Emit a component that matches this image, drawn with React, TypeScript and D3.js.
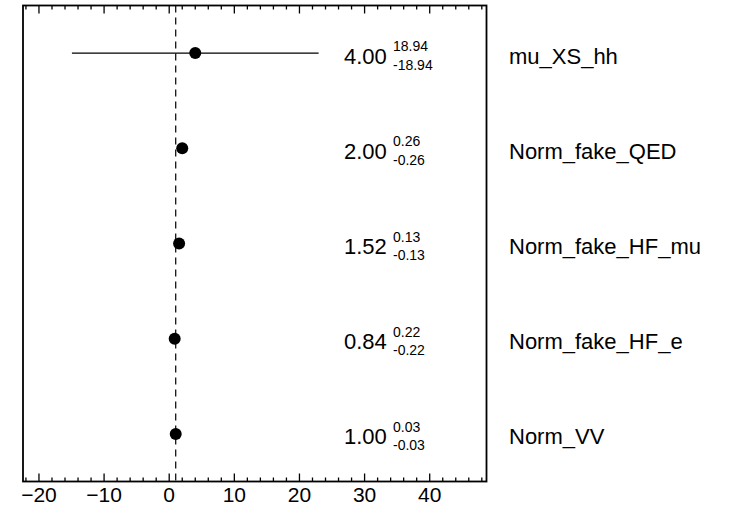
import React from "react";
import * as d3 from "d3";

const labels = ["mu_XS_hh", "Norm_fake_QED", "Norm_fake_HF_mu", "Norm_fake_HF_e", "Norm_VV"];
const values = [4.0, 2.0, 1.52, 0.84, 1.0];
const errUp = [18.94, 0.26, 0.13, 0.22, 0.03];
const errDown = [18.94, 0.26, 0.13, 0.22, 0.03];
const xTicks = [-20, -10, 0, 10, 20, 30, 40];
const refValue = 1;

const W = 736;
const H = 510;
const L = 23, R = 486.5, T = 5.5, B = 481.5;
const FONT = "'Liberation Sans', Arial, Helvetica, sans-serif";

export default function App() {
  const x = d3.scaleLinear().domain([-22.45, 48.72]).range([L, R]);
  const y = d3.scaleBand<number>().domain(d3.range(labels.length)).range([T, B]);
  const minor = d3.range(-22, 49, 2).filter((v) => !xTicks.includes(v));
  const fmt = (v: number) => (v < 0 ? "\u2212" + Math.abs(v) : String(v));
  return (
    <svg width={W} height={H} style={{ position: "absolute", left: 0, top: 0, background: "#fff" }} fontFamily={FONT}>
      <rect x={0} y={0} width={W} height={H} fill="#fff" />
      {/* reference dashed line */}
      <line x1={x(refValue)} x2={x(refValue)} y1={T} y2={B} stroke="#000" strokeWidth={1.2} strokeDasharray="7,5" />
      {/* ticks */}
      {xTicks.map((t) => (
        <g key={"M" + t}>
          <line x1={x(t)} x2={x(t)} y1={B} y2={B - 8} stroke="#000" strokeWidth={1.3} />
          <line x1={x(t)} x2={x(t)} y1={T} y2={T + 8} stroke="#000" strokeWidth={1.3} />
          <text x={x(t)} y={501.5} fontSize={21} textAnchor="middle">{fmt(t)}</text>
        </g>
      ))}
      {minor.map((t) => (
        <g key={"m" + t}>
          <line x1={x(t)} x2={x(t)} y1={B} y2={B - 4} stroke="#000" strokeWidth={1.3} />
          <line x1={x(t)} x2={x(t)} y1={T} y2={T + 4} stroke="#000" strokeWidth={1.3} />
        </g>
      ))}
      {/* points */}
      {labels.map((lab, i) => {
        const cy = y(i)! + y.bandwidth() / 2;
        return (
          <g key={lab}>
            <line x1={x(values[i] - errDown[i])} x2={x(values[i] + errUp[i])} y1={cy} y2={cy} stroke="#000" strokeWidth={1.3} />
            <circle cx={x(values[i])} cy={cy} r={6} fill="#000" />
            <text x={344} y={cy + 10.5} fontSize={22}>{values[i].toFixed(2)}</text>
            <text x={393} y={cy - 2} fontSize={14}>{errUp[i].toFixed(2)}</text>
            <text x={393} y={cy + 16.5} fontSize={14}>{"-" + errDown[i].toFixed(2)}</text>
            <text x={509} y={cy + 10.5} fontSize={22}>{lab}</text>
          </g>
        );
      })}
      <rect x={L} y={T} width={R - L} height={B - T} fill="none" stroke="#000" strokeWidth={1.8} />
    </svg>
  );
}
